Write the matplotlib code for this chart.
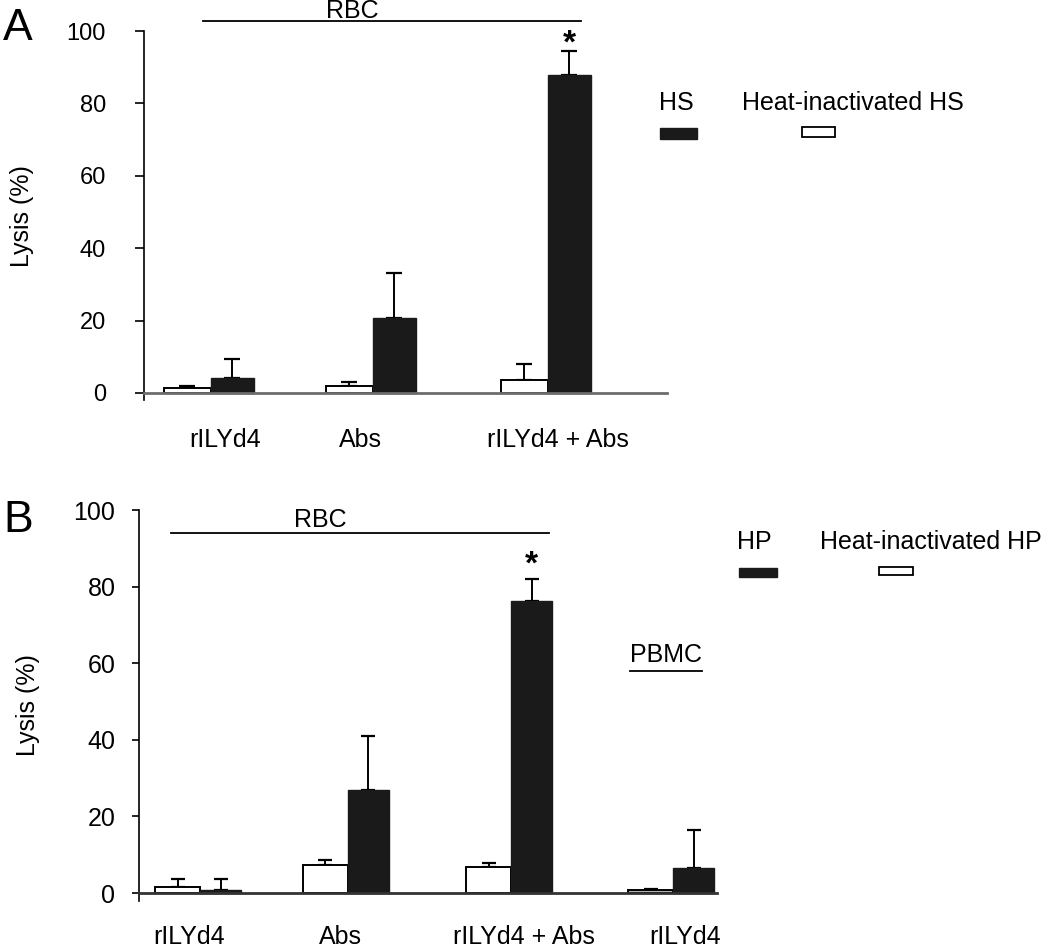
import numpy as np
import matplotlib
matplotlib.use('Agg')
import matplotlib.pyplot as plt
from matplotlib.patches import Rectangle

plt.rcParams['font.family'] = ['Liberation Sans', 'DejaVu Sans']

# panel A: RBC lysis, human serum vs heat-inactivated
groups_a = ['rILYd4', 'Abs', 'rILYd4 + Abs']
hs = [4.2, 20.6, 87.8]
hs_err = [5.3, 12.6, 6.8]
hs_heat = [1.4, 1.9, 3.7]
hs_heat_err = [0.4, 1.1, 4.4]

# panel B: human plasma, RBC groups + PBMC
groups_b = ['rILYd4', 'Abs', 'rILYd4 + Abs', 'rILYd4']
hp = [0.9, 27.0, 76.3, 6.5]
hp_err = [2.8, 14.1, 5.7, 10.0]
hp_heat = [1.5, 7.2, 6.8, 0.7]
hp_heat_err = [2.2, 1.5, 1.0, 0.4]

yticks = [0, 20, 40, 60, 80, 100]

W, H = 1050, 948
def fx(x): return x / W
def fy(y): return 1 - y / H

fig = plt.figure(figsize=(10.5, 9.48), dpi=100)


def panel(rect, split, lab_x, lab_y, names, black, black_err, white, white_err,
          wb, ww, cap, tsize, tpad, tlen, axis_col, white_fc):
    ax = fig.add_axes(rect)
    split = np.array(split)
    ax.bar(split, white, width=-ww, align='edge', color=white_fc,
           edgecolor='black', linewidth=1.4, zorder=2)
    ax.bar(split, black, width=wb, align='edge', color='#1a1a1a',
           edgecolor='#1a1a1a', linewidth=1, zorder=2)
    ax.errorbar(split - ww / 2, white, yerr=[np.zeros(len(white)), white_err],
                fmt='none', ecolor='black', elinewidth=1.4, capsize=cap,
                capthick=1.6, zorder=1)
    ax.errorbar(split + wb / 2, black, yerr=[np.zeros(len(black)), black_err],
                fmt='none', ecolor='black', elinewidth=1.4, capsize=cap,
                capthick=1.6, zorder=1)
    ax.set_ylim(-2, 100)
    ax.set_yticks(yticks)
    ax.set_xticks([])
    ax.spines['top'].set_visible(False)
    ax.spines['right'].set_visible(False)
    ax.spines['bottom'].set_position(('data', 0))
    ax.spines['bottom'].set_color(axis_col)
    ax.spines['bottom'].set_linewidth(2)
    ax.spines['left'].set_linewidth(1.2)
    ax.tick_params(axis='y', labelsize=tsize, pad=tpad, length=tlen, width=1.2)
    for x, n in zip(lab_x, names):
        ax.text(x, lab_y, n, ha='center', va='center', fontsize=18, clip_on=False)
    ax.set_ylabel('Lysis (%)', fontsize=18)
    return ax, split


# ---- A ----
axA, sA = panel([fx(144), fy(400.2), 523 / W, 369.2 / H],
                [1.49, 5.09, 8.98], [1.8, 4.8, 9.2], -13,
                groups_a, hs, hs_err, hs_heat, hs_heat_err,
                0.95, 1.05, 6, 17, 21, 6.5, '#6d6d6d', 'white')
axA.set_xlim(0, 523 / 45)
axA.yaxis.set_label_coords(-(144 - 34) / 523, 0.5)
axA.plot([1.31, 9.71], [102.8, 102.8], color='black', lw=1.3, clip_on=False)
axA.text(4.62, 105.5, 'RBC', ha='center', va='center', fontsize=18)
axA.text(sA[2] + 0.475, 96.3, '*', ha='center', va='center', fontsize=24,
         fontweight='bold')
fig.text(fx(3), fy(29), 'A', fontsize=32, va='center', ha='left')

fig.text(fx(659), fy(103), 'HS', fontsize=18, va='center')
fig.text(fx(742), fy(103), 'Heat-inactivated HS', fontsize=18, va='center')
fig.add_artist(Rectangle((fx(660), fy(139)), 37 / W, 11 / H,
                         transform=fig.transFigure, color='#1a1a1a'))
fig.add_artist(Rectangle((fx(802), fy(137)), 33 / W, 10 / H,
                         transform=fig.transFigure, facecolor='white',
                         edgecolor='black', lw=1.3))

# ---- B ----
axB, sB = panel([fx(139), fy(900.7), 578 / W, 390.7 / H],
                [1.36, 4.64, 8.27, 11.87], [1.11, 4.47, 8.56, 12.13], -11.5,
                groups_b, hp, hp_err, hp_heat, hp_heat_err,
                0.91, 1.0, 4.7, 18, 12, 5, '#333333',
                ['white', 'white', 'white', '#b0b0b0'])
axB.set_xlim(0, 578 / 45)
axB.yaxis.set_label_coords(-(139 - 40) / 578, 0.5)
axB.plot([0.71, 9.11], [94, 94], color='black', lw=1.3, clip_on=False)
axB.text(4.02, 97.4, 'RBC', ha='center', va='center', fontsize=18)
axB.text(sB[2] + 0.455, 85.6, '*', ha='center', va='center', fontsize=24,
         fontweight='bold')
axB.text(11.7, 62.1, 'PBMC', ha='center', va='center', fontsize=18)
axB.plot([10.91, 12.51], [58, 58], color='black', lw=1.3)
fig.text(fx(3), fy(520), 'B', fontsize=32, va='center', ha='left')

fig.text(fx(737), fy(542), 'HP', fontsize=18, va='center')
fig.text(fx(820), fy(542), 'Heat-inactivated HP', fontsize=18, va='center')
fig.add_artist(Rectangle((fx(739), fy(577)), 38 / W, 9 / H,
                         transform=fig.transFigure, color='#1a1a1a'))
fig.add_artist(Rectangle((fx(879), fy(575)), 34 / W, 8 / H,
                         transform=fig.transFigure, facecolor='white',
                         edgecolor='black', lw=1.3))

fig.savefig('out.png', dpi=100)
